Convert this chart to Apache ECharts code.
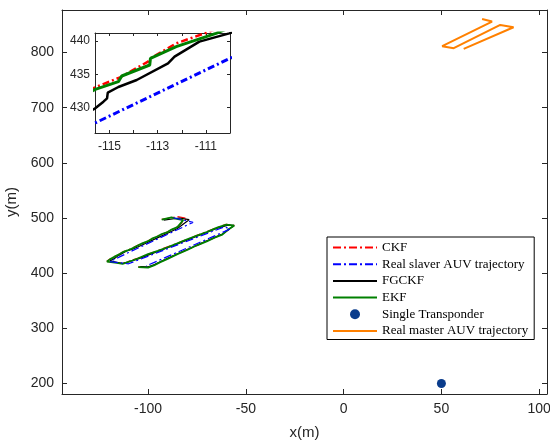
<!DOCTYPE html>
<html><head><meta charset="utf-8">
<script src="https://cdn.jsdelivr.net/npm/echarts@6/dist/echarts.min.js"></script>
<style>html,body{margin:0;padding:0;background:#fff}#c{width:550px;height:444px}</style>
</head><body><div id="c"></div>
<script>
// ---- data ----
const mainXTicks = [-100, -50, 0, 50, 100];
const mainYTicks = [200, 300, 400, 500, 600, 700, 800];
const insetXTicks = [-115, -114, -113, -112, -111];
const insetXLabels = [-115, -113, -111];
const insetYTicks = [430, 435, 440];

const ckf = [[-93,497.5],[-85,502.5],[-80,499.5],[-85,484],[-90,475],[-95,467.5],[-100,458.5],[-105,451],[-108,445.5],
  [-110.86,441.4],[-112.23,439.65],[-113.3,437.4],[-113.4,436.9],[-114.56,434.55],[-115.59,433.05],
  [-117,430.5],[-119.5,425.5],[-121,421.5],[-113,417.5],[-105,427.5],[-95,441],[-85,454.5],[-75,468.5],[-65,482.5],[-60,488.5],[-56,486.5],
  [-62,470.5],[-70,458],[-80,442.5],[-90,426.5],[-97,414.5],[-100,410.5],[-105,411.5]];

const slaverReal = [[-87,500.5],[-77,492],[-85,478.8],[-95,462.2],[-105,445.7],[-110,437.4],[-115.6,427.7],[-119.5,421],
  [-110,417],[-61,484],[-58,480],[-101,413]];

const fgckf = [[-92,496],[-84,500],[-79,497],[-85,481],[-90,472.5],[-95,464.5],[-100,456],[-105,448],[-108,443.5],
  [-110.03,441.15],[-111.27,439.9],[-112.3,437.65],[-112.57,436.65],[-113.87,434.15],[-114.63,433.1],[-115.07,432.25],
  [-115.1,431.4],[-115.25,430.9],[-115.59,429.9],[-117,427],[-119.5,422.5],[-120.5,420.5],[-113,417.5],
  [-105,426],[-95,439.5],[-85,453],[-75,467],[-65,481],[-59,487],[-56,486.5],
  [-62,471],[-70,458.5],[-80,443],[-90,427],[-97,415],[-100,411.5],[-104,412]];

const ekf = [[-93,497],[-88,501],[-86,499],[-82,496],[-85,483.5],[-88,479],[-90,474.5],[-93,471],[-95,467],[-98,462.5],[-100,458],[-103,454],[-105,450.5],[-108,445],
  [-110.58,441.15],[-112.23,439.15],[-113.3,437.4],[-113.33,436.4],[-114.49,434.75],[-114.63,433.9],[-115.59,432.75],
  [-117,430],[-119.5,425],[-121,421],[-116,418.5],[-113,417],[-108,423],[-105,427],[-100,434.5],[-95,440.5],[-90,447],[-85,454],[-80,461.5],[-75,468],[-70,474.5],[-65,482],[-60,488],[-56,486],
  [-59,479],[-62,470],[-66,464.5],[-70,457.5],[-75,450.5],[-80,442],[-85,434.5],[-90,426],[-94,419.5],[-97,414],[-100,410],[-105,411]];

const transponder = [[50, 200]];

const masterReal = [[70.8,860.8],[75.9,856.1],[50.4,811.4],[56.3,807.8],[80.1,849.9],[86.9,845.8],[61.4,806.5]];

// ---- chart ----
const axisColor = '#262626';
const dashDot = [8, 3, 2, 3];
function axisBase(extra) {
  return Object.assign({
    axisLine: {show: true, onZero: false, lineStyle: {color: axisColor, width: 1}},
    splitLine: {show: false},
    axisTick: {show: true, inside: true, length: 5, lineStyle: {color: axisColor}},
    axisLabel: {color: axisColor, fontFamily: 'Liberation Sans', fontSize: 14}
  }, extra);
}
const chart = echarts.init(document.getElementById('c'), null, {renderer: 'canvas'});
const names = ['CKF', 'Real slaver AUV trajectory', 'FGCKF', 'EKF', 'Single Transponder', 'Real master AUV trajectory'];

function lineSeries(name, data, color, width, type, xi, yi, z) {
  return {name, type: 'line', data, xAxisIndex: xi, yAxisIndex: yi, symbol: 'none', showSymbol: false,
    lineStyle: {color, width, type}, itemStyle: {color}, animation: false, z: z, clip: true};
}

const option = {
  animation: false,
  backgroundColor: '#fff',
  grid: [
    {left: 62, right: 3, top: 10, bottom: 50, show: false, containLabel: false, outerBoundsMode: 'none'},
    {left: 95, top: 33, width: 135, height: 100, show: true, backgroundColor: '#fff', borderWidth: 0, z: 5,
      containLabel: false, outerBoundsMode: 'none'}
  ],
  xAxis: [
    axisBase({type: 'value', gridIndex: 0, min: -144, max: 104, position: 'bottom',
      name: 'x(m)', nameLocation: 'middle', nameGap: 31,
      nameTextStyle: {color: axisColor, fontFamily: 'Liberation Sans', fontSize: 15},
      axisTick: {show: true, inside: true, length: 5, lineStyle: {color: axisColor}, customValues: mainXTicks},
      axisLabel: {color: axisColor, fontFamily: 'Liberation Sans', fontSize: 14, margin: 8, customValues: mainXTicks}}),
    axisBase({type: 'value', gridIndex: 0, min: -144, max: 104, position: 'top',
      axisTick: {show: true, inside: true, length: 5, lineStyle: {color: axisColor}, customValues: mainXTicks},
      axisLabel: {show: false}}),
    axisBase({type: 'value', gridIndex: 1, min: -115.6, max: -110, position: 'bottom', z: 6,
      axisTick: {show: true, inside: true, length: 3, lineStyle: {color: axisColor}, customValues: insetXTicks},
      axisLabel: {color: axisColor, fontFamily: 'Liberation Sans', fontSize: 12, margin: 8, customValues: insetXLabels}}),
    axisBase({type: 'value', gridIndex: 1, min: -115.6, max: -110, position: 'top', z: 6,
      axisTick: {show: true, inside: true, length: 3, lineStyle: {color: axisColor}, customValues: insetXTicks},
      axisLabel: {show: false}})
  ],
  yAxis: [
    axisBase({type: 'value', gridIndex: 0, min: 181, max: 877, position: 'left',
      name: 'y(m)', nameLocation: 'middle', nameGap: 42, nameRotate: 90,
      nameTextStyle: {color: axisColor, fontFamily: 'Liberation Sans', fontSize: 15},
      axisTick: {show: true, inside: true, length: 5, lineStyle: {color: axisColor}, customValues: mainYTicks},
      axisLabel: {color: axisColor, fontFamily: 'Liberation Sans', fontSize: 14, margin: 8, customValues: mainYTicks}}),
    axisBase({type: 'value', gridIndex: 0, min: 181, max: 877, position: 'right',
      axisTick: {show: true, inside: true, length: 5, lineStyle: {color: axisColor}, customValues: mainYTicks},
      axisLabel: {show: false}}),
    axisBase({type: 'value', gridIndex: 1, min: 426.2, max: 441.2, position: 'left', z: 6,
      axisTick: {show: true, inside: true, length: 3, lineStyle: {color: axisColor}, customValues: insetYTicks},
      axisLabel: {color: axisColor, fontFamily: 'Liberation Sans', fontSize: 12, margin: 5, customValues: insetYTicks}}),
    axisBase({type: 'value', gridIndex: 1, min: 426.2, max: 441.2, position: 'right', z: 6,
      axisTick: {show: true, inside: true, length: 3, lineStyle: {color: axisColor}, customValues: insetYTicks},
      axisLabel: {show: false}})
  ],
  legend: {
    orient: 'vertical', left: 327, top: 237,
    data: names.map(n => n === 'Single Transponder'
      ? {name: n, icon: 'circle', itemStyle: {color: '#0a3c8c', opacity: 1}}
      : {name: n, itemStyle: {opacity: 0}}),
    itemWidth: 44, itemHeight: 10, itemGap: 3.7, padding: [4, 6, 2, 5],
    borderColor: '#000', borderWidth: 1, backgroundColor: '#fff',
    textStyle: {fontFamily: 'Liberation Serif', fontSize: 13, color: '#000'},
    selectedMode: false
  },
  series: [
    lineSeries('CKF', ckf, '#ff0000', 1.2, dashDot, 0, 0, 2),
    lineSeries('Real slaver AUV trajectory', slaverReal, '#0000ff', 1.2, dashDot, 0, 0, 3),
    lineSeries('FGCKF', fgckf, '#000000', 1.2, 'solid', 0, 0, 2),
    lineSeries('EKF', ekf, '#008000', 1.8, 'solid', 0, 0, 2),
    {name: 'Single Transponder', type: 'scatter', data: transponder, xAxisIndex: 0, yAxisIndex: 0,
      symbol: 'circle', symbolSize: 9, itemStyle: {color: '#0a3c8c', opacity: 1}, z: 3},
    lineSeries('Real master AUV trajectory', masterReal, '#ff8000', 2, 'solid', 0, 0, 2),
    // inset (zoom of the same data)
    lineSeries('CKF', ckf, '#ff0000', 2.5, [7, 3, 2, 3], 2, 2, 7),
    lineSeries('Real slaver AUV trajectory', slaverReal, '#0000ff', 3, [7, 3, 2, 3], 2, 2, 7),
    lineSeries('FGCKF', fgckf, '#000000', 2.5, 'solid', 2, 2, 7),
    lineSeries('EKF', ekf, '#008000', 3, 'solid', 2, 2, 7)
  ]
};
chart.setOption(option);
</script>
</body></html>
